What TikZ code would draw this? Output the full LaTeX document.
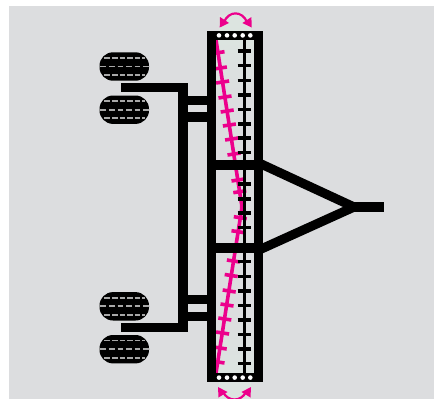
\documentclass[tikz,border=0pt]{standalone}
\definecolor{bggray}{HTML}{DCDDDF}
\definecolor{pale}{HTML}{DCE4E0}
\definecolor{mag}{HTML}{EC008C}
\definecolor{dashgray}{HTML}{A8A8A8}
\tikzset{
  bar/.style={line width=9.2pt,draw=black,line cap=butt},
  tick/.style={line width=3.3pt,draw=black},
  magline/.style={line width=3.6pt,draw=mag},
  magarc/.style={line width=2.2pt,draw=mag},
  tire/.style={fill=black,rounded corners=13.5pt},
  tread/.style={line width=1.9pt,draw=dashgray},
  dotmark/.style={circle,fill=white,inner sep=0pt,minimum size=4.6pt}
}
\newcommand{\tireat}[1]{%
  \fill[tire] (99.5,#1-14.2) rectangle (149,#1+14.2);
  \foreach \a/\b in {104/110,112/118,119.5/125,127/132.5,134.5/140,142/145}{
    \draw[tread] (\a,#1-8.7) -- (\b,#1-8.7);
    \draw[tread] (\a,#1+8.7) -- (\b,#1+8.7);}
  \foreach \a/\b in {100/105.5,109/114.5,117.5/123,126/131.5,134.5/140,143/148.5}{
    \draw[tread] (\a,#1) -- (\b,#1);}
}
\begin{document}
\begin{tikzpicture}[x=1pt,y=-1pt]
\useasboundingbox (0,0) rectangle (434,399);
\fill[bggray] (9,6) rectangle (434,399);
% pale interior
\fill[top color=pale,bottom color=bggray] (215,40) rectangle (255,100);
\fill[top color=bggray,bottom color=pale] (215,320) rectangle (255,373);
\shade[inner color=pale,outer color=bggray] (213,9) rectangle (257,31);
\fill[pale] (219,15) rectangle (251,31);
\fill[pale] (219,382) rectangle (251,399);
% tyres
\tireat{66.5}
\tireat{109.7}
\tireat{306.3}
\tireat{349.2}
% magenta line and ticks
\draw[magline,rounded corners=3pt] (216,40) -- (242,207) -- (216,373);
\foreach \y/\x in {52.7/218,68/220.4,82/222.6,97/225,111/227.2,125/229.4,139/231.6,154/234,180/238,191.7/239.8}{
  \draw[magline] (\x-6.5,\y+1) -- (\x+6.5,\y-1);}
\foreach \y/\x in {217.7/240.3,231.7/238,261/233.4,275.5/231.2,291/229.2,305/227,319/224.8,333/222.6,348/220.2,362/218}{
  \draw[magline] (\x-6.5,\y-1) -- (\x+6.5,\y+1);}
% black centre line and ticks
\draw[tick] (244.3,40) -- (244.3,373);
\foreach \y in {51,65.7,80.3,95,109.3,124,138,152.7,184,199,213,227.7,261.7,276.2,291,305.3,320,334.5,349,363.5}{
  \draw[tick] (237.7,\y) -- (250.7,\y);}
% frame
\draw[bar] (211.3,40) -- (211.3,373);
\draw[bar] (258.5,40) -- (258.5,373);
\fill (207,31) rectangle (263,40);
\fill (206.5,373) rectangle (263,382);
\foreach \x in {219,227,234.7,242.7,250.3}{
  \node[dotmark] at (\x,35.4) {};
  \node[dotmark] at (\x,377.6) {};}
% cross bars and drawbar
\draw[bar] (215,165) -- (262,165);
\draw[bar] (215,248) -- (262,248);
\draw[bar,line join=miter] (259,163) -- (354,207) -- (259,250);
\draw[bar] (352,207) -- (384,207);
% wheel frame
\draw[bar] (183,83) -- (183,332);
\draw[bar] (121,87.7) -- (187,87.7);
\draw[bar] (121,327.5) -- (187,327.5);
\draw[bar] (187,100.2) -- (207,100.2);
\draw[bar] (187,117) -- (207,117);
\draw[bar] (187,299.2) -- (207,299.2);
\draw[bar] (187,316.5) -- (207,316.5);
% swing arrows
\draw[magarc] (224,22) .. controls (229,10.5) and (242,10.5) .. (247,22);
\fill[mag] (219.7,27.5) -- (220,17) -- (229,23) -- cycle;
\fill[mag] (251.7,27.5) -- (251.4,17) -- (242.4,23) -- cycle;
\draw[magarc] (223,392) .. controls (228,402) and (241,402) .. (246,392);
\fill[mag] (218,387) -- (218.5,397.5) -- (227.5,392) -- cycle;
\fill[mag] (251,387) -- (250.5,397.5) -- (241.5,392) -- cycle;
\end{tikzpicture}
\end{document}
